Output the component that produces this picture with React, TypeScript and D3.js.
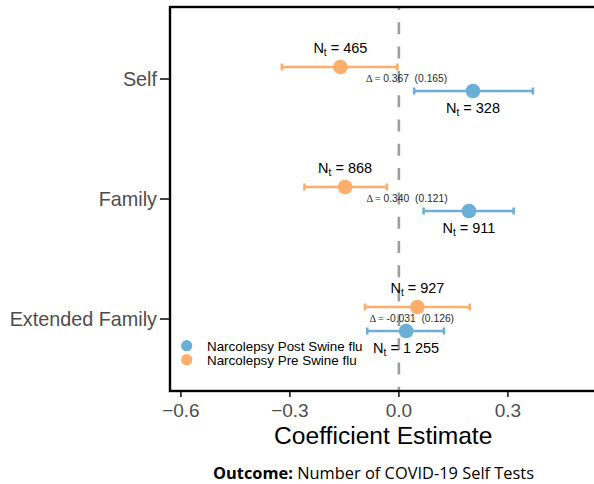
import React from "react";
import * as d3 from "d3";

const categories = ["Self", "Family", "Extended Family"];
const postEst = [0.204, 0.193, 0.02];
const postLo = [0.042, 0.068, -0.087];
const postHi = [0.369, 0.316, 0.124];
const preEst = [-0.161, -0.148, 0.051];
const preLo = [-0.322, -0.26, -0.093];
const preHi = [-0.004, -0.033, 0.195];
const postN = ["328", "911", "1 255"];
const preN = ["465", "868", "927"];
const deltaVal = ["0.367", "0.340", "-0.031"];
const deltaSE = ["0.165", "0.121", "0.126"];
const xTicks = [-0.6, -0.3, 0, 0.3];
const legendLabels = ["Narcolepsy Post Swine flu", "Narcolepsy Pre Swine flu"];

const BLUE = "#6BAED6";
const ORANGE = "#FDAE6B";
const W = 594;
const H = 484;
const L = 170, T = 7, R = 596.5, B = 391;
const SANS = "'Liberation Sans', Arial, sans-serif";

export default function App() {
  const x = d3.scaleLinear().domain([-0.63, 0.544]).range([L, R]);
  const y = d3.scalePoint<string>().domain(categories).range([T, B]).padding(0.6);
  const fmt = d3.format(".1f");
  const dodge = 12;

  const series = [
    { est: preEst, lo: preLo, hi: preHi, n: preN, color: ORANGE, off: -dodge, labelDy: -14 },
    { est: postEst, lo: postLo, hi: postHi, n: postN, color: BLUE, off: dodge, labelDy: 21.5 },
  ];

  return (
    <svg width={W} height={H} style={{ position: "absolute", left: 0, top: 0, background: "#fff" }}>
      <rect x={0} y={0} width={W} height={H} fill="#fff" />
      {/* zero line */}
      <line x1={x(0)} x2={x(0)} y1={T} y2={B} stroke="#9E9E9E" strokeWidth={2.6}
        strokeDasharray="12 12.3" strokeDashoffset={9} />
      {series.map((s, si) =>
        categories.map((c, i) => {
          const yy = (y(c) as number) + s.off;
          return (
            <g key={`${si}-${i}`}>
              <line x1={x(s.lo[i])} x2={x(s.hi[i])} y1={yy} y2={yy} stroke={s.color} strokeWidth={2.6} />
              <line x1={x(s.lo[i])} x2={x(s.lo[i])} y1={yy - 3.5} y2={yy + 3.5} stroke={s.color} strokeWidth={2.6} />
              <line x1={x(s.hi[i])} x2={x(s.hi[i])} y1={yy - 3.5} y2={yy + 3.5} stroke={s.color} strokeWidth={2.6} />
              <circle cx={x(s.est[i])} cy={yy} r={7.3} fill={s.color} />
              <text x={x(s.est[i])} y={yy + s.labelDy} textAnchor="middle" fontFamily={SANS} fontSize={14.5} fill="#000">
                N<tspan fontSize={10} dy={3}>t</tspan><tspan dy={-3}>{" = " + s.n[i]}</tspan>
              </text>
            </g>
          );
        })
      )}
      {/* delta labels */}
      {categories.map((c, i) => {
        const mid = (x(preEst[i]) + x(postEst[i])) / 2;
        return (
          <text key={c} x={mid} y={(y(c) as number) + 3} textAnchor="middle" fontSize={10.3} fill="#2a2a2a" fontFamily={SANS}>
            <tspan fontFamily="'Liberation Serif', serif">{"Δ = "}</tspan>
            <tspan>{deltaVal[i] + "\u00a0\u00a0(" + deltaSE[i] + ")"}</tspan>
          </text>
        );
      })}
      {/* legend */}
      {legendLabels.map((lab, i) => (
        <g key={lab}>
          <circle cx={186.7} cy={345.7 + i * 14} r={5.6} fill={i === 0 ? BLUE : ORANGE} />
          <text x={207} y={350.5 + i * 14} fontFamily={SANS} fontSize={13.4} fill="#000">{lab}</text>
        </g>
      ))}
      {/* panel border */}
      <rect x={L} y={T} width={R - L} height={B - T} fill="none" stroke="#000" strokeWidth={2.4} />
      {/* x axis */}
      {xTicks.map((t) => (
        <g key={t}>
          <line x1={x(t)} x2={x(t)} y1={B + 1} y2={B + 6} stroke="#333" strokeWidth={1.8} />
          <text x={x(t)} y={417.3} textAnchor="middle" fontFamily={SANS} fontSize={19} fill="#4D4D4D">{fmt(t)}</text>
        </g>
      ))}
      {/* y axis */}
      {categories.map((c) => (
        <g key={c}>
          <line x1={L - 10} x2={L - 1} y1={y(c) as number} y2={y(c) as number} stroke="#333" strokeWidth={1.8} />
          <text x={157} y={(y(c) as number) + 7} textAnchor="end" fontFamily={SANS} fontSize={19.8} fill="#4D4D4D">{c}</text>
        </g>
      ))}
      <text x={(L + R) / 2} y={444.3} textAnchor="middle" fontFamily={SANS} fontSize={24.6} fill="#000">Coefficient Estimate</text>
      <text x={373.5} y={478.5} textAnchor="middle" fontFamily="'Open Sans', sans-serif" fontSize={16.4} fill="#000">
        <tspan fontWeight="bold">Outcome:</tspan>
        <tspan>{" Number of COVID-19 Self Tests"}</tspan>
      </text>
    </svg>
  );
}
